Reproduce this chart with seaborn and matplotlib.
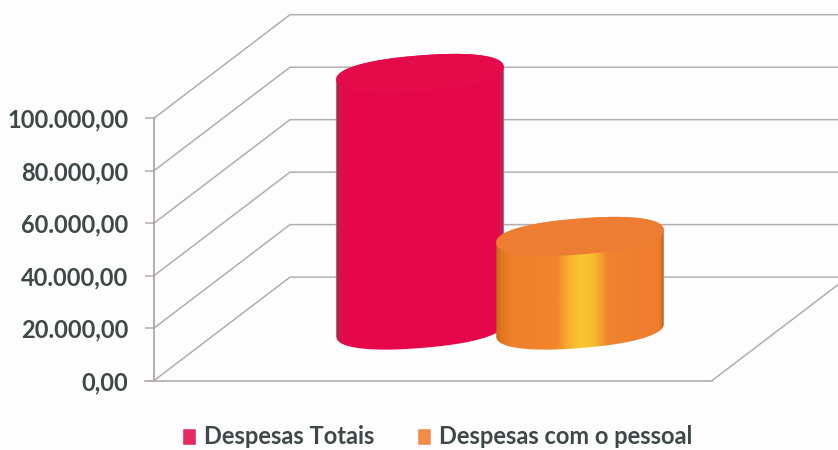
import numpy as np
import pandas as pd
import seaborn as sns
import matplotlib.pyplot as plt
from matplotlib.colors import LinearSegmentedColormap
from matplotlib.patches import Polygon

categorias = ['Despesas Totais', 'Despesas com o pessoal']
valores = [97750, 35630]
ticks = [0, 20000, 40000, 60000, 80000, 100000]
tick_labels = ['0,00', '20.000,00', '40.000,00', '60.000,00', '80.000,00', '100.000,00']

cores_legenda = ['#e52a60', '#f28b4a']
cores_corpo = [
    [(0, '#a02a50'), (0.025, '#d8124c'), (0.06, '#e6074a'), (0.96, '#e6074a'), (0.99, '#c81c50'), (1, '#a8305a')],
    [(0, '#c06a18'), (0.03, '#e4761f'), (0.1, '#f0802c'), (0.36, '#f2852c'), (0.42, '#f6ac2e'), (0.5, '#f8c832'),
     (0.58, '#f6bc30'), (0.66, '#f0842e'), (0.97, '#ee7c2e'), (1, '#b45a14')],
]
cores_topo = ['#e50a4a', '#ee7d34']
cor_grade = '#b4acae'
cor_texto = '#3f4848'

sns.set_theme(style='white')
plt.rcParams['font.family'] = ['Lato', 'DejaVu Sans']

W, H = 838, 450
y_zero = 380.6
px_valor = 262.4 / 100000   # pixels por unidade
prof_x, prof_y = 136, 103.5  # profundidade da caixa 3D
x_eixo, x_fim = 154, 712

fig = plt.figure(figsize=(W / 100, H / 100), dpi=100, facecolor='#fdfdfd')

# paredes e chao
ax = fig.add_axes([0, 0, 1, 1])
ax.set_facecolor('#fdfdfd')
ax.set_xlim(0, W)
ax.set_ylim(-(H - y_zero) / px_valor, y_zero / px_valor)
prof_v = prof_y / px_valor
for t in ticks:
    ax.plot([x_eixo, x_eixo + prof_x, W + 5], [t, t + prof_v, t + prof_v], color=cor_grade, lw=1.1, zorder=1)
ax.plot([x_fim, x_fim + prof_x], [0, prof_v], color=cor_grade, lw=1.1, zorder=1)
sns.despine(ax=ax, top=True, right=True)
ax.spines['left'].set_position(('data', x_eixo))
ax.spines['left'].set_bounds(0, 100000)
ax.spines['left'].set_color('#a89fa2')
ax.spines['left'].set_linewidth(1.2)
ax.spines['bottom'].set_position(('data', 0))
ax.spines['bottom'].set_bounds(x_eixo - 9, x_fim)
ax.spines['bottom'].set_color(cor_grade)
ax.spines['bottom'].set_linewidth(1.2)
ax.set_xticks([])
ax.set_yticks(ticks)
ax.set_yticklabels(tick_labels, fontsize=17, color=cor_texto, fontweight='bold')
ax.tick_params(axis='y', left=True, length=6.5, width=1.1, color=cor_grade, pad=12)

# cilindros
ax2 = fig.add_axes([0, 0, 1, 1])
ax2.patch.set_alpha(0)
df = pd.DataFrame({'categoria': categorias, 'valor': valores})
sns.barplot(data=df, x='categoria', y='valor', hue='categoria', palette=cores_legenda, saturation=1,
            width=1.04, dodge=False, legend=True, ax=ax2)
ax2.set_axis_off()

x_centro, passo = 420, 160
y_base = 330
limx = (-x_centro / passo, (W - x_centro) / passo)
limy = (-(H - y_base) / px_valor, y_base / px_valor)

a = 84
b = 18
rot = np.deg2rad(4.6)
expo = 0.88  # tampa um pouco mais cheia que uma elipse


def elipse(cx, cy, t):
    # offsets em pixels, convertidos para dados
    c = np.sign(np.cos(t)) * np.abs(np.cos(t)) ** expo
    s = np.sign(np.sin(t)) * np.abs(np.sin(t)) ** expo
    dx = a * c * np.cos(rot) - b * s * np.sin(rot)
    dy = a * c * np.sin(rot) + b * s * np.cos(rot)
    return np.column_stack([cx + dx / passo, cy + dy / px_valor])


barras = sorted(ax2.patches, key=lambda p: p.get_x())
barras = [p for p in barras if p.get_height() > 0]
for i, p in enumerate(barras):
    cx = p.get_x() + p.get_width() / 2
    topo = p.get_height()
    t_baixo = np.linspace(np.pi, 2 * np.pi, 80)
    corpo = np.vstack([elipse(cx, 0, t_baixo), elipse(cx, topo, np.linspace(0, np.pi, 80))])
    clip = Polygon(corpo, closed=True, transform=ax2.transData, fc='none', ec='none')
    ax2.add_patch(clip)
    p.set_clip_path(clip)
    cmap = LinearSegmentedColormap.from_list('c%d' % i, cores_corpo[i])
    img = ax2.imshow(np.linspace(0, 1, 256).reshape(1, -1), cmap=cmap, aspect='auto',
                     extent=(cx - a / passo, cx + a / passo, -30 / px_valor, topo + 30 / px_valor),
                     zorder=3 + i)
    img.set_clip_path(clip)
    ax2.add_patch(Polygon(elipse(cx, topo, np.linspace(0, 2 * np.pi, 160)), closed=True,
                          fc=cores_topo[i], ec='none', zorder=3.5 + i))

ax2.set_xlim(*limx)
ax2.set_ylim(*limy)

sns.move_legend(ax2, loc='center', bbox_to_anchor=(437 / W, 1 - 437 / H), ncol=2, frameon=False, title=None,
                handlelength=0.6, handleheight=0.75, handletextpad=0.34, columnspacing=1.8,
                labelcolor=cor_texto, prop={'weight': 'bold', 'size': 17})

fig.savefig('out.png', dpi=100, facecolor=fig.get_facecolor())
